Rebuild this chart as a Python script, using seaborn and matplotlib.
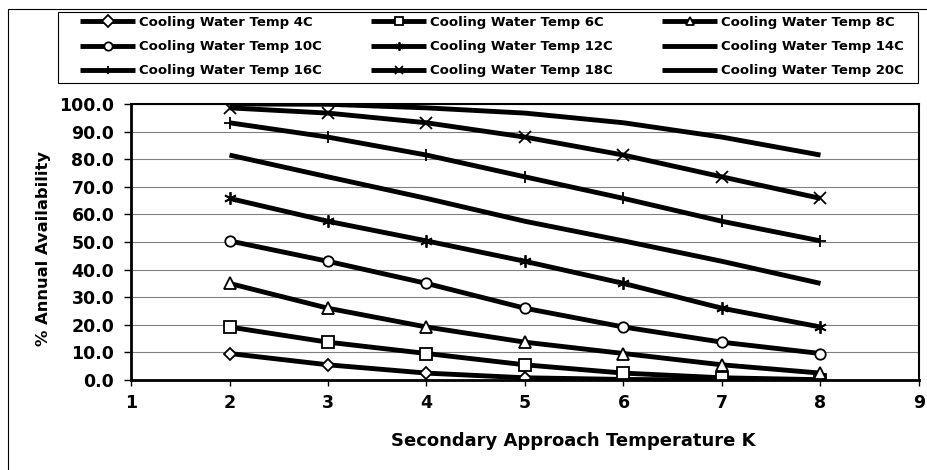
import matplotlib
matplotlib.use("Agg")
import matplotlib.pyplot as plt
import seaborn as sns
import pandas as pd
from matplotlib.patches import Rectangle

sns.set_theme(style="white")
plt.rcParams['font.family'] = ['DejaVu Sans']
plt.rcParams['font.weight'] = 'bold'
plt.rcParams['text.color'] = 'black'
plt.rcParams['axes.labelcolor'] = 'black'
plt.rcParams['xtick.color'] = 'black'
plt.rcParams['ytick.color'] = 'black'

approach = [2, 3, 4, 5, 6, 7, 8]
temp_4c = [9.6, 5.5, 2.5, 0.8, 0.2, 0.0, 0.0]
temp_6c = [19.2, 13.7, 9.6, 5.5, 2.5, 0.8, 0.1]
temp_8c = [35.0, 26.0, 19.2, 13.7, 9.6, 5.5, 2.5]
temp_10c = [50.4, 43.0, 35.0, 26.0, 19.2, 13.7, 9.6]
temp_12c = [65.8, 57.5, 50.4, 43.0, 35.0, 26.0, 19.2]
temp_14c = [81.5, 73.6, 65.8, 57.5, 50.4, 43.0, 35.0]
temp_16c = [93.2, 88.0, 81.5, 73.6, 65.8, 57.5, 50.4]
temp_18c = [98.6, 96.7, 93.2, 88.0, 81.5, 73.6, 65.8]
temp_20c = [100.0, 99.9, 98.6, 96.7, 93.2, 88.0, 81.5]

series_names = ["Cooling Water Temp 4C", "Cooling Water Temp 6C", "Cooling Water Temp 8C",
                "Cooling Water Temp 10C", "Cooling Water Temp 12C", "Cooling Water Temp 14C",
                "Cooling Water Temp 16C", "Cooling Water Temp 18C", "Cooling Water Temp 20C"]
series_values = [temp_4c, temp_6c, temp_8c, temp_10c, temp_12c, temp_14c,
                 temp_16c, temp_18c, temp_20c]
markers = ["D", "s", "^", "o", (6, 2, 0), None, "+", "x", None]
msizes = [6, 8, 8, 7.5, 9, 0, 9, 9, 0]

x_ticks = [1, 2, 3, 4, 5, 6, 7, 8, 9]
y_ticks = [0, 10, 20, 30, 40, 50, 60, 70, 80, 90, 100]

fig = plt.figure(figsize=(9.28, 4.70), dpi=100)
ax = fig.add_axes([131/928, 1 - 380/470, (919 - 131)/928, (380 - 104)/470])

handles = []
for name, vals, mk, ms in zip(series_names, series_values, markers, msizes):
    df = pd.DataFrame({"x": approach, "y": vals})
    kw = dict(color="black", linewidth=3.5, solid_capstyle="butt")
    if mk is not None:
        kw.update(marker=mk, markersize=ms, markerfacecolor="white",
                  markeredgecolor="black", markeredgewidth=1.3)
    sns.lineplot(data=df, x="x", y="y", ax=ax, label=name, legend=False, **kw)
    handles.append(ax.lines[-1])

ax.set_xlim(1, 9)
ax.set_ylim(0, 100)
ax.set_xticks(x_ticks)
ax.set_yticks(y_ticks)
ax.set_xticklabels([str(v) for v in x_ticks], fontsize=12.5, fontweight="bold")
ax.set_yticklabels([f"{v:.1f}" for v in y_ticks], fontsize=12.5, fontweight="bold")
ax.yaxis.grid(True, color="#808080", linewidth=0.8)
ax.set_axisbelow(True)
ax.tick_params(axis="x", direction="out", length=4, width=1, color="black",
               bottom=True, pad=6)
ax.tick_params(axis="y", direction="out", length=5, width=1, color="black",
               left=True, pad=7)
for side in ["top", "right", "left", "bottom"]:
    ax.spines[side].set_visible(True)
    ax.spines[side].set_color("black")
ax.spines["left"].set_linewidth(2)
ax.spines["bottom"].set_linewidth(2)
ax.spines["top"].set_linewidth(1.5)
ax.spines["right"].set_linewidth(1.5)

ax.set_xlabel("Secondary Approach Temperature K", fontsize=13, fontweight="bold")
ax.xaxis.label.set_va("center")
ax.xaxis.set_label_coords((573 - 131) / 788, (380 - 441) / 276)
ax.set_ylabel("% Annual Availability", fontsize=11.8, fontweight="bold")
ax.yaxis.label.set_va("center")
ax.yaxis.set_label_coords((43 - 131) / 788, (380 - 248) / 276)

# legend ordered row-wise (3 columns), frame drawn separately
order = [0, 3, 6, 1, 4, 7, 2, 5, 8]
fs_px = 9.5 * 100 / 72
leg = fig.legend([handles[i] for i in order], [series_names[i] for i in order],
                 ncol=3, loc="upper left",
                 bbox_to_anchor=(80/928, 1 - 84/470, (904 - 80)/928, (84 - 16)/470),
                 mode="expand", frameon=False,
                 prop={"size": 9.5, "weight": "bold"}, handlelength=55/fs_px,
                 handletextpad=4/fs_px, labelspacing=0.85, borderaxespad=0,
                 borderpad=0, columnspacing=1.0)
for lh in leg.legend_handles:
    lh.set_markersize(6)
fig.add_artist(Rectangle((58/928, 1 - 83/470), (918 - 58)/928, (83 - 12)/470,
                         transform=fig.transFigure, fill=False,
                         edgecolor="black", linewidth=0.8))

# outer chart frame (partially visible)
fig.add_artist(plt.Line2D([8/928, 8/928], [0, 1 - 9/470], transform=fig.transFigure,
                          color="black", linewidth=0.8))
fig.add_artist(plt.Line2D([8/928, 1], [1 - 9/470, 1 - 9/470], transform=fig.transFigure,
                          color="black", linewidth=0.8))

fig.savefig("out.png", dpi=100)
